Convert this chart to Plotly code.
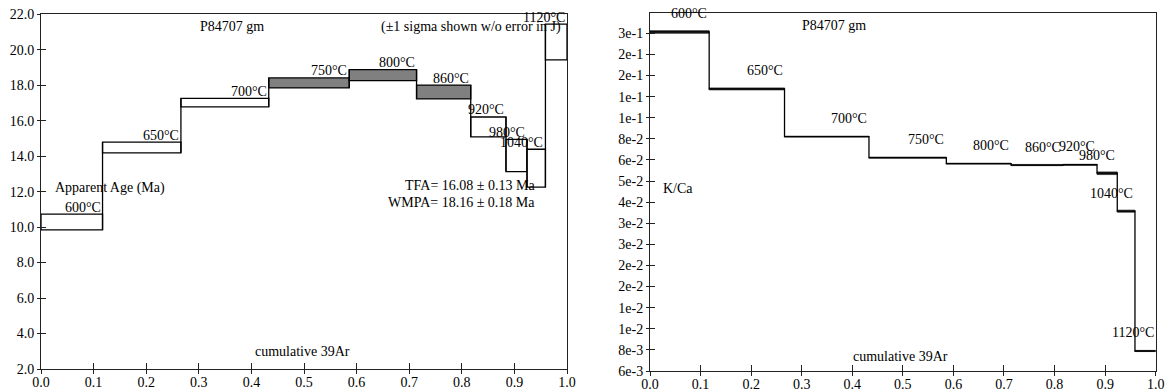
import numpy as np
import plotly.graph_objects as go

# ---------------- data ----------------
cum39 = [0.0, 0.117, 0.266, 0.433, 0.586, 0.714, 0.817, 0.884, 0.924, 0.959, 1.0]
steps = ["600°C", "650°C", "700°C", "750°C", "800°C", "860°C", "920°C", "980°C", "1040°C", "1120°C"]
age_ma = [10.29, 14.49, 17.02, 18.13, 18.57, 17.62, 15.65, 14.04, 13.32, 20.44]
age_sigma = [0.44, 0.30, 0.24, 0.28, 0.31, 0.39, 0.56, 0.91, 1.07, 1.01]
plateau = [False, False, False, True, True, True, False, False, False, False]
kca = [0.255, 0.137, 0.0814, 0.0647, 0.0606, 0.0597, 0.0599, 0.0546, 0.0361, 0.00785]
kca_sigma = [0.0037, 0.0015, 0.0004, 0.0004, 0.0003, 0.0004, 0.0003, 0.0008, 0.0004, 0.00005]
age_ticks = [2.0, 4.0, 6.0, 8.0, 10.0, 12.0, 14.0, 16.0, 18.0, 20.0, 22.0]
x_ticks = [0.0, 0.1, 0.2, 0.3, 0.4, 0.5, 0.6, 0.7, 0.8, 0.9, 1.0]
kca_tick_text = ["6e-3", "8e-3", "1e-2", "1e-2", "2e-2", "2e-2", "3e-2", "3e-2", "4e-2",
                 "5e-2", "6e-2", "8e-2", "1e-1", "1e-1", "2e-1", "2e-1", "3e-1"]
kca_tick_vals = [10 ** (-2.2 + 0.1 * k) for k in range(len(kca_tick_text))]

FONT = "Liberation Serif, Times New Roman, serif"
LINE = "#222222"

left_edges = cum39[:-1]
widths = [cum39[i + 1] - cum39[i] for i in range(len(steps))]
age_lo = [a - s for a, s in zip(age_ma, age_sigma)]
age_hi = [a + s for a, s in zip(age_ma, age_sigma)]

fig = go.Figure()

# ---------- left: age spectrum boxes ----------
fig.add_trace(go.Bar(
    x=left_edges, width=widths, offset=0,
    base=age_lo, y=[2 * s for s in age_sigma],
    marker=dict(color=["#808080" if p else "white" for p in plateau],
                line=dict(color="black", width=1.3)),
    xaxis="x", yaxis="y", showlegend=False, hoverinfo="skip"))

# vertical connectors between neighbouring steps
cx, cy = [], []
for i in range(1, len(steps)):
    lo = min(age_lo[i - 1], age_lo[i])
    hi = max(age_hi[i - 1], age_hi[i])
    cx += [cum39[i], cum39[i], None]
    cy += [lo, hi, None]
fig.add_trace(go.Scatter(x=cx, y=cy, mode="lines", line=dict(color="black", width=1.3),
                         xaxis="x", yaxis="y", showlegend=False, hoverinfo="skip"))

# ---------- right: K/Ca ----------
bx, by = [], []
for i in range(len(steps)):
    lo, hi = kca[i] - kca_sigma[i], kca[i] + kca_sigma[i]
    l, r = cum39[i], cum39[i + 1]
    bx += [l, r, r, l, l, None]
    by += [lo, lo, hi, hi, lo, None]
fig.add_trace(go.Scatter(x=bx, y=by, mode="lines", fill="toself", fillcolor="#333333",
                         line=dict(color="black", width=0.6), xaxis="x2", yaxis="y2",
                         showlegend=False, hoverinfo="skip"))
fig.add_trace(go.Scatter(x=cum39, y=kca + [kca[-1]], mode="lines", line_shape="hv",
                         line=dict(color="black", width=1.3), xaxis="x2", yaxis="y2",
                         showlegend=False, hoverinfo="skip"))

# dummy traces to activate overlay tick axes
fig.add_trace(go.Scatter(x=[None], y=[None], xaxis="x3", yaxis="y3", showlegend=False))
fig.add_trace(go.Scatter(x=[None], y=[None], xaxis="x4", yaxis="y4", showlegend=False))

W, H = 1166, 390
dxl = [41 / W, 567 / W]
dyl = [(H - 369) / H, (H - 14.3) / H]
dxr = [650 / W, 1155.7 / W]
dyr = [(H - 371) / H, (H - 13.3) / H]

tickfont = dict(family=FONT, size=14, color="black")
base_ax = dict(showgrid=False, zeroline=False, linecolor=LINE, linewidth=1,
               tickcolor=LINE, tickfont=tickfont, mirror=True, showline=True)
xmain = dict(ticks="inside", ticklen=6, ticklabelstandoff=0, **base_ax)
ymain = dict(ticks="outside", ticklen=3, **base_ax)
over = dict(showgrid=False, zeroline=False, showline=False, showticklabels=False, tickcolor=LINE)
xover = dict(ticks="outside", ticklen=4, **over)
yover = dict(ticks="inside", ticklen=5, **over)

anns = []
for i, s in enumerate(steps):
    anns.append(dict(x=cum39[i + 1], y=age_hi[i], xref="x", yref="y",
                     text=s, showarrow=False, xanchor="right", yanchor="middle", yshift=7))
    anns.append(dict(x=cum39[i + 1], y=np.log10(kca[i]), xref="x2", yref="y2",
                     text=s, showarrow=False, xanchor="right", yanchor="middle", yshift=18))

anns += [
    dict(x=0.363, y=21.3, xref="x", yref="y", text="P84707 gm", showarrow=False, xanchor="center"),
    dict(x=0.993, y=21.28, xref="x", yref="y", text="(±1 sigma shown w/o error in J)",
         showarrow=False, xanchor="right"),
    dict(x=0.0234, y=12.21, xref="x", yref="y", text="Apparent Age (Ma)", showarrow=False, xanchor="left"),
    dict(x=0.9424, y=12.33, xref="x", yref="y", text="TFA= 16.08 ± 0.13 Ma", showarrow=False, xanchor="right"),
    dict(x=0.9424, y=11.40, xref="x", yref="y", text="WMPA= 18.16 ± 0.18 Ma", showarrow=False, xanchor="right"),
    dict(x=0.498, y=2.975, xref="x", yref="y", text="cumulative 39Ar", showarrow=False, xanchor="center"),
    dict(x=0.364, y=-0.563, xref="x2", yref="y2", text="P84707 gm", showarrow=False, xanchor="center"),
    dict(x=0.0218, y=-1.333, xref="x2", yref="y2", text="K/Ca", showarrow=False, xanchor="left"),
    dict(x=0.496, y=-2.129, xref="x2", yref="y2", text="cumulative 39Ar", showarrow=False, xanchor="center"),
]

fig.update_layout(
    width=W, height=H, margin=dict(l=0, r=0, t=0, b=0, autoexpand=False),
    paper_bgcolor="white", plot_bgcolor="white", showlegend=False,
    font=dict(family=FONT, size=14, color="black"), barmode="overlay",
    xaxis=dict(domain=dxl, anchor="y", range=[0, 1], tickvals=x_ticks, tickformat=".1f", **xmain),
    yaxis=dict(domain=dyl, anchor="x", range=[2, 22], tickvals=age_ticks, tickformat=".1f", **ymain),
    xaxis2=dict(domain=dxr, anchor="y2", range=[0, 1], tickvals=x_ticks, tickformat=".1f", **xmain),
    yaxis2=dict(domain=dyr, anchor="x2", type="log", range=[-2.2, -0.505],
                tickvals=kca_tick_vals, ticktext=kca_tick_text, **ymain),
    xaxis3=dict(overlaying="x", anchor="y", range=[0, 1], tickvals=x_ticks, **xover),
    yaxis3=dict(overlaying="y", anchor="x", range=[2, 22], tickvals=age_ticks, **yover),
    xaxis4=dict(overlaying="x2", anchor="y2", range=[0, 1], tickvals=x_ticks, **xover),
    yaxis4=dict(overlaying="y2", anchor="x2", type="log", range=[-2.2, -0.505],
                tickvals=kca_tick_vals, **yover),
    annotations=anns,
)

fig.write_html("out.html", config={"displayModeBar": False},
               post_script="document.body.style.margin='0';document.body.style.overflow='hidden';")
